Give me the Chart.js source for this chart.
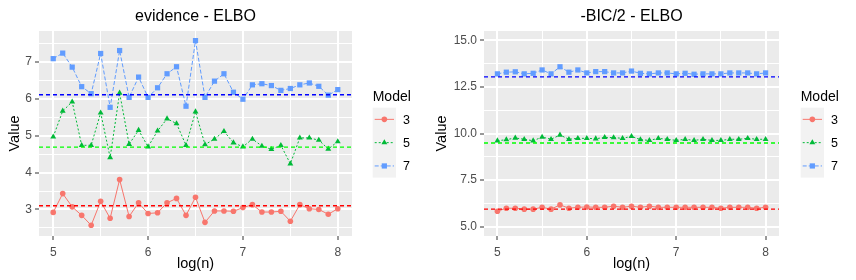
<!DOCTYPE html>
<html>
<head>
<meta charset="utf-8">
<script src="https://cdn.jsdelivr.net/npm/chart.js@4.4.1/dist/chart.umd.min.js"></script>
<style>
    body { margin: 0; background: #ffffff; }
    .panel { position: absolute; top: 0; width: 428px; height: 280px; }
</style>
</head>
<body>
<div class="panel" style="left:0px"><canvas id="evidenceChart" width="428" height="280"></canvas></div>
<div class="panel" style="left:428px"><canvas id="bicChart" width="428" height="280"></canvas></div>
<script>
// x values
const logN = [5.0, 5.1, 5.2, 5.3, 5.4, 5.5, 5.6, 5.7, 5.8, 5.9, 6.0, 6.1, 6.2, 6.3, 6.4, 6.5,
              6.6, 6.7, 6.8, 6.9, 7.0, 7.1, 7.2, 7.3, 7.4, 7.5, 7.6, 7.7, 7.8, 7.9, 8.0];
const modelNames = ['3', '5', '7'];

// left panel: evidence - ELBO
const evidence3 = [2.92, 3.43, 3.07, 2.84, 2.57, 3.22, 2.76, 3.81, 2.81, 3.18, 2.89, 2.91, 3.18, 3.30, 2.84, 3.33,
                   2.65, 2.96, 2.96, 2.95, 3.05, 3.13, 2.93, 2.93, 2.95, 2.68, 3.13, 3.02, 3.00, 2.87, 3.02];
const evidence5 = [4.97, 5.67, 5.92, 4.74, 4.74, 5.62, 4.41, 6.16, 4.77, 5.15, 4.70, 5.13, 5.46, 5.33, 4.74, 5.65,
                   4.76, 4.91, 5.12, 4.81, 4.70, 4.91, 4.72, 4.63, 4.74, 4.24, 4.94, 4.94, 4.88, 4.64, 4.84];
const evidence7 = [7.09, 7.24, 6.86, 6.33, 6.14, 7.23, 5.77, 7.31, 6.04, 6.59, 6.04, 6.30, 6.68, 6.87, 5.80, 7.58,
                   6.04, 6.48, 6.68, 6.18, 5.99, 6.38, 6.41, 6.36, 6.23, 6.28, 6.38, 6.43, 6.34, 6.10, 6.25];
const evidenceRefs = [3.10, 4.69, 6.11];

// right panel: -BIC/2 - ELBO
const bic3 = [5.83, 5.99, 5.99, 5.94, 5.94, 6.04, 5.94, 6.17, 5.99, 6.04, 6.06, 6.04, 6.04, 6.10, 6.04, 6.10,
              6.04, 6.10, 6.04, 6.04, 6.04, 6.04, 6.04, 6.04, 6.04, 5.99, 6.04, 6.04, 6.04, 5.99, 6.04];
const bic5 = [9.61, 9.67, 9.76, 9.69, 9.61, 9.81, 9.69, 9.92, 9.69, 9.74, 9.74, 9.72, 9.79, 9.78, 9.74, 9.85,
              9.67, 9.63, 9.74, 9.69, 9.63, 9.69, 9.63, 9.69, 9.63, 9.63, 9.69, 9.69, 9.74, 9.69, 9.69];
const bic7 = [13.20, 13.29, 13.31, 13.20, 13.23, 13.41, 13.20, 13.58, 13.29, 13.41, 13.25, 13.32, 13.32, 13.25, 13.25, 13.35,
              13.23, 13.20, 13.25, 13.25, 13.20, 13.23, 13.18, 13.20, 13.20, 13.20, 13.25, 13.25, 13.25, 13.20, 13.25];
const bicRefs = [5.94, 9.49, 13.04];

// axes
const xRange = [4.85, 8.15];
const xMajor = [5, 6, 7, 8];
const xMinor = [5.5, 6.5, 7.5];
const xLabels = ['5', '6', '7', '8'];

const evidenceYRange = [2.28, 7.84];
const evidenceYMajor = [3, 4, 5, 6, 7];
const evidenceYMinor = [2.5, 3.5, 4.5, 5.5, 6.5, 7.5];
const evidenceYLabels = ['3', '4', '5', '6', '7'];

const bicYRange = [4.5, 15.5];
const bicYMajor = [5, 7.5, 10, 12.5, 15];
const bicYMinor = [6.25, 8.75, 11.25, 13.75];
const bicYLabels = ['5.0', '7.5', '10.0', '12.5', '15.0'];

// styles (ggplot look)
const seriesColors = ['#F8766D', '#00BA38', '#619CFF'];
const refColors = ['#FF0000', '#00FF00', '#0000FF'];
const seriesDash = [[], [2, 2], [4, 2]];
const seriesPoint = ['circle', 'triangle', 'rect'];
const seriesRadius = [2.8, 3.4, 3.7];
const FONT = "'Liberation Sans', Arial, sans-serif";

// grey panel, title over the panel, and the ggplot-like legend
const ggPanel = {
    id: 'ggPanel',
    beforeDraw(chart) {
        const a = chart.chartArea;
        const ctx = chart.ctx;
        ctx.save();
        ctx.fillStyle = '#EBEBEB';
        ctx.fillRect(a.left, a.top, a.right - a.left, a.bottom - a.top);
        ctx.restore();
    },
    afterDraw(chart, args, opts) {
        const a = chart.chartArea;
        const ctx = chart.ctx;
        ctx.save();
        // title
        ctx.fillStyle = '#000000';
        ctx.font = '16px ' + FONT;
        ctx.textAlign = 'center';
        ctx.textBaseline = 'alphabetic';
        ctx.fillText(opts.title, (a.left + a.right) / 2, 20.5);

        // legend
        const lx = 372.7, keyTop = 107.7, keyW = 23.3, keyH = 23.3;
        ctx.textAlign = 'left';
        ctx.font = '14px ' + FONT;
        ctx.fillText('Model', lx, 100.5);
        ctx.fillStyle = '#F2F2F2';
        ctx.fillRect(lx, keyTop, keyW, keyH * modelNames.length);
        modelNames.forEach((name, i) => {
            const cy = keyTop + keyH * (i + 0.5);
            ctx.strokeStyle = seriesColors[i];
            ctx.lineWidth = 1;
            ctx.setLineDash(seriesDash[i]);
            ctx.beginPath();
            ctx.moveTo(lx + 2, cy);
            ctx.lineTo(lx + keyW - 2, cy);
            ctx.stroke();
            ctx.setLineDash([]);
            ctx.fillStyle = seriesColors[i];
            Chart.helpers.drawPoint(ctx, { pointStyle: seriesPoint[i], radius: seriesRadius[i], rotation: 0, borderWidth: 0 },
                lx + keyW / 2, cy);
            ctx.fillStyle = '#000000';
            ctx.font = '12.5px ' + FONT;
            ctx.fillText(name, lx + 30.3, cy + 4.4);
        });
        ctx.restore();
    }
};

function makeTicks(major, minor) {
    return major.concat(minor).sort((p, q) => p - q).map(v => ({ value: v }));
}

function axisGrid(major) {
    const isMajor = c => major.some(m => Math.abs(m - c.tick.value) < 1e-9);
    return {
        color: '#FFFFFF',
        lineWidth: c => (isMajor(c) ? 2 : 1),
        tickLength: 4,
        tickWidth: 1,
        tickColor: c => (isMajor(c) ? '#333333' : 'rgba(0,0,0,0)')
    };
}

function labelFor(major, labels) {
    return v => {
        const k = major.findIndex(m => Math.abs(m - v) < 1e-9);
        return k >= 0 ? labels[k] : '';
    };
}

function buildDatasets(seriesList, refs) {
    const datasets = [];
    seriesList.forEach((vals, i) => {
        datasets.push({
            data: logN.map((x, k) => ({ x: x, y: vals[k] })),
            borderColor: seriesColors[i],
            backgroundColor: seriesColors[i],
            pointBackgroundColor: seriesColors[i],
            borderWidth: 1,
            borderDash: seriesDash[i],
            pointStyle: seriesPoint[i],
            pointRadius: seriesRadius[i],
            pointBorderWidth: 0,
            tension: 0,
            order: 1
        });
    });
    refs.forEach((h, i) => {
        datasets.push({
            data: [{ x: xRange[0], y: h }, { x: xRange[1], y: h }],
            borderColor: refColors[i],
            borderWidth: 1.4,
            borderDash: [4, 3],
            pointRadius: 0,
            order: 0
        });
    });
    return datasets;
}

function createChart(canvasId, title, seriesList, refs, yRange, yMajor, yMinor, yLabels, yWidth, rightPad, titlePad) {
    const ctx = document.getElementById(canvasId).getContext('2d');
    return new Chart(ctx, {
        type: 'line',
        data: { datasets: buildDatasets(seriesList, refs) },
        options: {
            responsive: false,
            animation: false,
            layout: { padding: { top: 31, right: rightPad, left: 0, bottom: 0 } },
            plugins: {
                legend: { display: false },
                tooltip: { enabled: false },
                title: { display: false },
                ggPanel: { title: title }
            },
            scales: {
                x: {
                    type: 'linear',
                    min: xRange[0],
                    max: xRange[1],
                    afterBuildTicks: s => { s.ticks = makeTicks(xMajor, xMinor); },
                    afterFit: s => { s.height = 44; },
                    grid: axisGrid(xMajor),
                    border: { display: false },
                    ticks: {
                        autoSkip: false,
                        maxRotation: 0,
                        padding: 5,
                        color: '#4D4D4D',
                        font: { family: FONT, size: 12 },
                        callback: labelFor(xMajor, xLabels)
                    },
                    title: {
                        display: true,
                        text: 'log(n)',
                        color: '#000000',
                        font: { family: FONT, size: 14.5 },
                        padding: { top: 0, bottom: 7 }
                    }
                },
                y: {
                    type: 'linear',
                    min: yRange[0],
                    max: yRange[1],
                    afterBuildTicks: s => { s.ticks = makeTicks(yMajor, yMinor); },
                    afterFit: s => { s.width = yWidth; },
                    grid: axisGrid(yMajor),
                    border: { display: false },
                    ticks: {
                        autoSkip: false,
                        padding: 3,
                        color: '#4D4D4D',
                        font: { family: FONT, size: 12 },
                        callback: labelFor(yMajor, yLabels)
                    },
                    title: {
                        display: true,
                        text: 'Value',
                        color: '#000000',
                        font: { family: FONT, size: 14.5 },
                        padding: { top: titlePad, bottom: 0 }
                    }
                }
            }
        },
        plugins: [ggPanel]
    });
}

createChart('evidenceChart', 'evidence - ELBO', [evidence3, evidence5, evidence7], evidenceRefs,
    evidenceYRange, evidenceYMajor, evidenceYMinor, evidenceYLabels, 39, 76, 6.5);
createChart('bicChart', '-BIC/2 - ELBO', [bic3, bic5, bic7], bicRefs,
    bicYRange, bicYMajor, bicYMinor, bicYLabels, 56, 77, 5.3);
</script>
</body>
</html>
